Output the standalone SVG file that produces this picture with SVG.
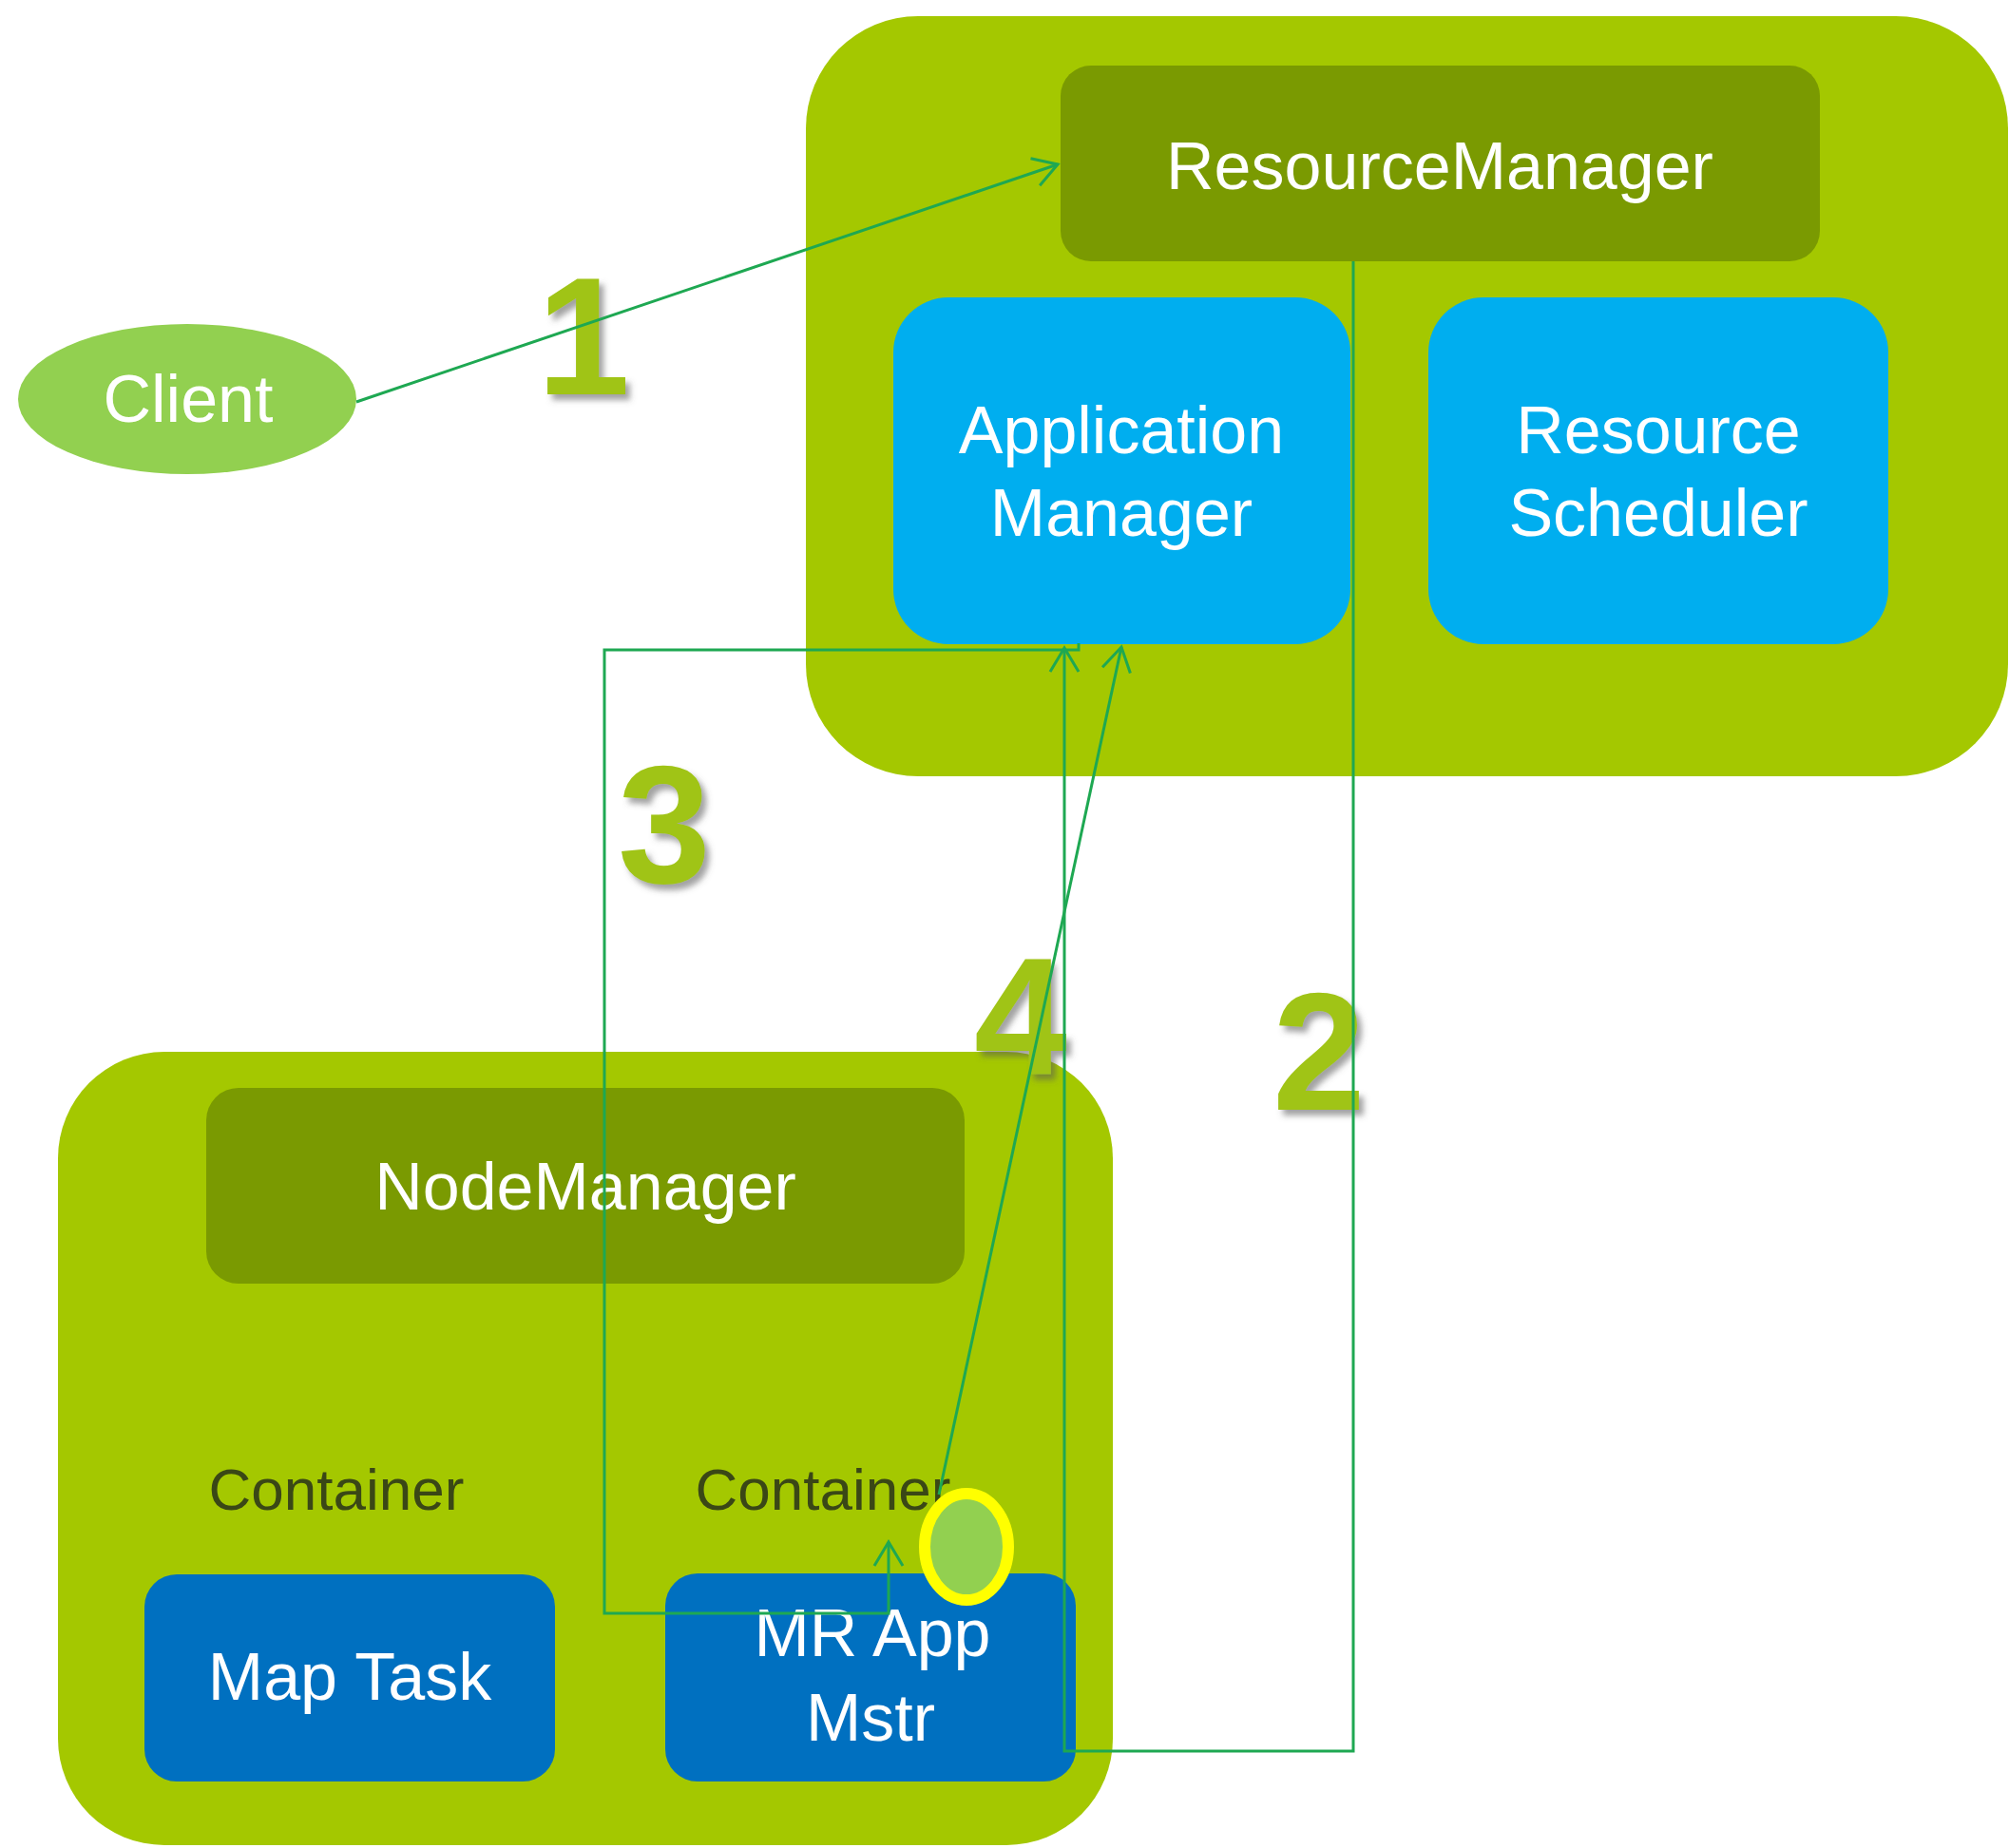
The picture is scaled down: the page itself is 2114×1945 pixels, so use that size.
<svg xmlns="http://www.w3.org/2000/svg" width="2114" height="1945" viewBox="0 0 2114 1945">
  <defs>
    <style>
      .host { fill: #a4c800; }
      .mgr { fill: #7a9a01; }
      .cyan { fill: #00aeef; }
      .blue { fill: #0070c0; }
      .lbl { font-family: "Liberation Sans", Arial, sans-serif; font-size: 70px; fill: #ffffff; text-anchor: middle; }
      .cont { font-family: "Liberation Sans", Arial, sans-serif; font-size: 62px; fill: #3a4716; text-anchor: middle; }
      .num { font-family: "Liberation Sans", Arial, sans-serif; font-size: 176px; font-weight: bold; fill: #a0c417; text-anchor: middle; }
      .conn { fill: none; stroke: #1ea852; stroke-width: 3; stroke-linejoin: miter; }
    </style>
    <marker id="arrow" markerUnits="userSpaceOnUse" viewBox="-30 -20 34 40" refX="0" refY="0" markerWidth="34" markerHeight="40" orient="auto">
      <path d="M-25,-15 L0,0 L-25,15" fill="none" stroke="#1ea852" stroke-width="3"/>
    </marker>
    <filter id="shadow" x="-30%" y="-30%" width="160%" height="160%">
      <feDropShadow dx="5" dy="6" stdDeviation="3" flood-color="#555555" flood-opacity="0.55"/>
    </filter>
  </defs>
  <rect x="0" y="0" width="2114" height="1945" fill="#ffffff"/>

  <g id="rm-host">
    <rect class="host" x="848" y="17" width="1265" height="800" rx="118" ry="118"/>
  </g>
  <g id="resource-manager">
    <rect class="mgr" x="1116" y="69" width="799" height="206" rx="32" ry="32"/>
    <text class="lbl" x="1515" y="199">ResourceManager</text>
  </g>
  <g id="application-manager">
    <rect class="cyan" x="940" y="313" width="481" height="365" rx="58" ry="58"/>
    <text class="lbl" x="1180" y="477">Application</text>
    <text class="lbl" x="1180" y="564">Manager</text>
  </g>
  <g id="resource-scheduler">
    <rect class="cyan" x="1503" y="313" width="484" height="365" rx="58" ry="58"/>
    <text class="lbl" x="1745" y="477">Resource</text>
    <text class="lbl" x="1745" y="564">Scheduler</text>
  </g>

  <g id="client">
    <ellipse cx="197" cy="420" rx="178" ry="79" fill="#92d050"/>
    <text class="lbl" x="198" y="444">Client</text>
  </g>

  <g id="nm-host">
    <rect class="host" x="61" y="1107" width="1110" height="835" rx="112" ry="112"/>
  </g>
  <g id="node-manager">
    <rect class="mgr" x="217" y="1145" width="798" height="206" rx="34" ry="34"/>
    <text class="lbl" x="616" y="1273">NodeManager</text>
  </g>
  <g id="container-1">
    <text class="cont" x="354" y="1589">Container</text>
  </g>
  <g id="container-2">
    <text class="cont" x="866" y="1589">Container</text>
  </g>
  <g id="map-task">
    <rect class="blue" x="152" y="1657" width="432" height="218" rx="34" ry="34"/>
    <text class="lbl" x="368" y="1789">Map Task</text>
  </g>
  <g id="mr-app-mstr">
    <rect class="blue" x="700" y="1656" width="432" height="219" rx="34" ry="34"/>
    <text class="lbl" x="918" y="1743">MR App</text>
    <text class="lbl" x="916" y="1832">Mstr</text>
  </g>
  <g id="highlight">
    <ellipse cx="1017" cy="1628" rx="44" ry="56" fill="#92d050" stroke="#ffff00" stroke-width="12"/>
  </g>

  <g id="step-labels" filter="url(#shadow)">
    <text class="num" x="614" y="415">1</text>
    <text class="num" x="1388" y="1168">2</text>
    <text class="num" x="699" y="929">3</text>
    <text class="num" x="1074" y="1131">4</text>
  </g>

  <g id="connectors">
    <path class="conn" d="M375,423 L1113,173" marker-end="url(#arrow)"/>
    <path class="conn" d="M1424,275 L1424,1843 L1120,1843 L1120,682" marker-end="url(#arrow)"/>
    <path class="conn" d="M1135,677 L1135,684 L636,684 L636,1698 L935,1698 L935,1623" marker-end="url(#arrow)"/>
    <path class="conn" d="M988,1573 L1180,681" marker-end="url(#arrow)"/>
  </g>
</svg>
